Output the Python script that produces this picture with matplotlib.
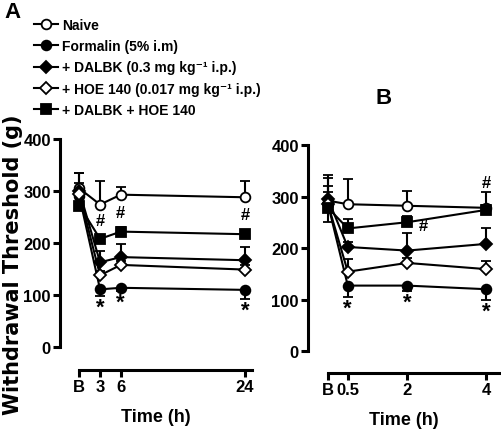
import matplotlib
matplotlib.use('Agg')
import matplotlib.pyplot as plt
from matplotlib.lines import Line2D

plt.rcParams['font.family'] = ['Liberation Sans', 'DejaVu Sans']
plt.rcParams['font.weight'] = 'bold'

# Panel A data (time in h, B = baseline at 0)
time_a = [0, 3, 6, 24]
tick_labels_a = ['B', '3', '6', '24']
naive_a = [305, 274, 293, 288]
naive_a_err = [30, 46, 15, 31]
formalin_a = [290, 111, 114, 110]
formalin_a_err = [25, 12, 6, 18]
dalbk_a = [300, 163, 173, 167]
dalbk_a_err = [35, 21, 25, 25]
hoe_a = [295, 138, 158, 149]
hoe_a_err = [20, 8, 8, 8]
combo_a = [272, 208, 222, 217]
combo_a_err = [20, 8, 8, 8]

# Panel B data
time_b = [0, 0.5, 2, 4]
tick_labels_b = ['B', '0.5', '2', '4']
naive_b = [292, 285, 282, 278]
naive_b_err = [50, 49, 29, 31]
formalin_b = [285, 127, 127, 120]
formalin_b_err = [35, 22, 10, 21]
dalbk_b = [295, 202, 195, 208]
dalbk_b_err = [40, 10, 34, 31]
hoe_b = [285, 154, 171, 159]
hoe_b_err = [35, 25, 10, 16]
combo_b = [278, 238, 250, 274]
combo_b_err = [30, 18, 12, 10]

labels = ['Naive', 'Formalin (5% i.m)', '+ DALBK (0.3 mg kg\u207b\u00b9 i.p.)',
          '+ HOE 140 (0.017 mg kg\u207b\u00b9 i.p.)', '+ DALBK + HOE 140']

styles = [dict(marker='o', mfc='white'), dict(marker='o', mfc='black'),
          dict(marker='D', mfc='black', ms=6), dict(marker='D', mfc='white', ms=6),
          dict(marker='s', mfc='black', ms=6.5)]

fig = plt.figure(figsize=(5.02, 4.35), dpi=100)
ax_a = fig.add_axes([60 / 502, 64 / 435, 192 / 502, 231 / 435])
ax_b = fig.add_axes([308 / 502, 61 / 435, 192 / 502, 228 / 435])


def draw(ax, t, series, errs, up):
    for y, e, st, u in zip(series, errs, styles, up):
        kw = dict(color='black', mec='black', lw=1.5, ms=st.get('ms', 7),
                  marker=st['marker'], mfc=st['mfc'], mew=1.3)
        lower = [0] * len(e) if u else e
        upper = e if u else [0] * len(e)
        ax.errorbar(t, y, yerr=[lower, upper], capsize=3.5, elinewidth=1.5,
                    capthick=1.5, **kw)


def style(ax, xlim, ylim_bottom, xbound, ticks, tlabels):
    ax.set_xlim(*xlim)
    ax.set_ylim(ylim_bottom, 400)
    for s in ['top', 'right']:
        ax.spines[s].set_visible(False)
    ax.spines['left'].set_bounds(0, 400)
    ax.spines['bottom'].set_bounds(0, xbound)
    ax.spines['left'].set_linewidth(2.2)
    ax.spines['bottom'].set_linewidth(2.2)
    ax.set_yticks([0, 100, 200, 300, 400])
    ax.set_xticks(ticks)
    ax.set_xticklabels(tlabels)
    ax.tick_params(width=2.2, length=5, labelsize=12, pad=1.5)
    ax.set_xlabel('Time (h)', fontsize=13, fontweight='bold', labelpad=10)
    for lab in ax.get_xticklabels() + ax.get_yticklabels():
        lab.set_fontweight('bold')


up = [True, False, True, True, True]
draw(ax_a, time_a, [naive_a, formalin_a, dalbk_a, hoe_a, combo_a],
     [naive_a_err, formalin_a_err, dalbk_a_err, hoe_a_err, combo_a_err], up)
draw(ax_b, time_b, [naive_b, formalin_b, dalbk_b, hoe_b, combo_b],
     [naive_b_err, formalin_b_err, dalbk_b_err, hoe_b_err, combo_b_err], up)

style(ax_a, (-2.8, 25), -44, 25, time_a, tick_labels_a)
style(ax_b, (-0.506, 4.35), -42.7, 4.35, time_b, tick_labels_b)

# significance marks
star_kw = dict(ha='center', va='center', fontsize=16, fontweight='bold')
for t, y, e in zip(time_a[1:], formalin_a[1:], formalin_a_err[1:]):
    ax_a.text(t, y - e - 22, '*', **star_kw)
for t, y, e in zip(time_b[1:], formalin_b[1:], formalin_b_err[1:]):
    ax_b.text(t, y - e - 22, '*', **star_kw)
hash_kw = dict(ha='center', va='center', fontsize=12, fontweight='bold')
for t, y in zip(time_a[1:], [244, 258, 254]):
    ax_a.text(t, y, '#', **hash_kw)
ax_b.text(4, 328, '#', **hash_kw)
ax_b.text(2.4, 243, '#', **hash_kw)

fig.text(13 / 502, 1 - 265 / 435, 'Withdrawal Threshold (g)', rotation=90,
         ha='center', va='center', fontsize=15, fontweight='bold', family='DejaVu Sans')
fig.text(4 / 502, 1 - 12 / 435, 'A', ha='left', va='center', fontsize=16, fontweight='bold')
fig.text(376 / 502, 1 - 98 / 435, 'B', ha='left', va='center', fontsize=16, fontweight='bold')

handles = [Line2D([], [], color='black', lw=1.5, marker=st['marker'], mfc=st['mfc'],
                  mec='black', mew=1.3, ms=st.get('ms', 7)) for st in styles]
fig.legend(handles, labels, loc='upper left', bbox_to_anchor=(27 / 502, 1 - 12 / 435),
           frameon=False, handlelength=1.7, handletextpad=0.3, labelspacing=0.52,
           borderpad=0, prop=dict(size=10, weight='bold'))

fig.savefig('out.png', dpi=100)
